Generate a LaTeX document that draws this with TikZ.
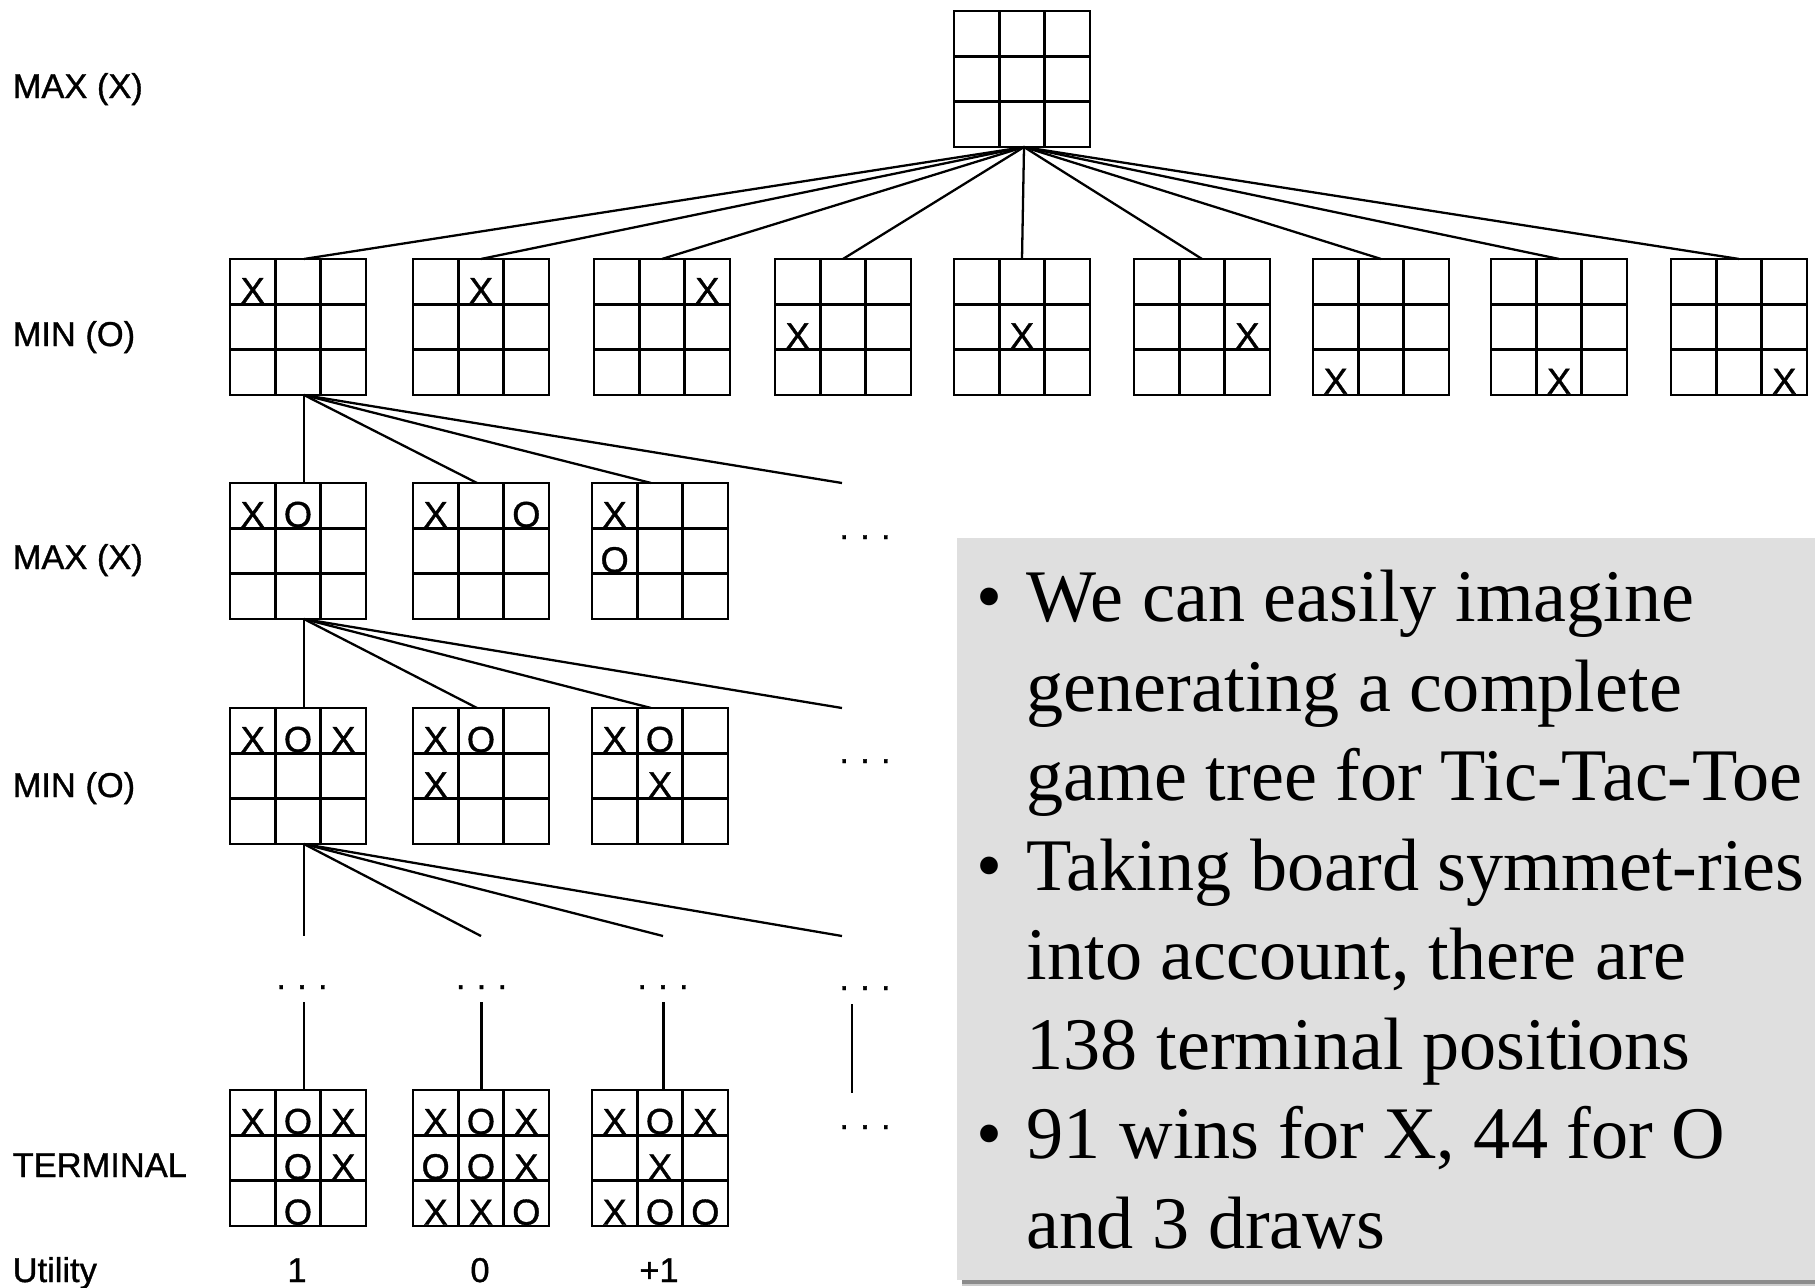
\documentclass[tikz,border=0pt]{standalone}
\usepackage{fontspec}
\setmainfont{Liberation Serif}
\newfontfamily\lblfont[FakeBold=1]{Liberation Sans}
\usetikzlibrary{calc}
\definecolor{boxgray}{HTML}{DFDFDF}
\tikzset{
  board/.style={draw, line width=0.7pt, minimum width=1.36cm, minimum height=1.36cm, inner sep=0pt, outer sep=0pt},
  mk/.style={font=\lblfont\fontsize{10.3pt}{12pt}\selectfont, inner sep=0pt, anchor=base},
  lbl/.style={font=\lblfont\fontsize{9.8pt}{12pt}\selectfont, inner sep=0pt, anchor=base west},
  val/.style={font=\lblfont\fontsize{9.8pt}{12pt}\selectfont, inner sep=0pt, anchor=base},
  dotsnode/.style={font=\lblfont\fontsize{9.8pt}{12pt}\selectfont, inner sep=0pt, anchor=base},
  edge/.style={line width=0.65pt},
  txt/.style={font=\fontsize{21.1pt}{25pt}\selectfont, inner sep=0pt, anchor=base west},
}
\newcommand\tttboard[3]{% name, left, top
  \node[board] (#1) at (#2+68, #3+68) {};
  \draw[line width=0.7pt]
    ($(#1.north west)!1/3!(#1.north east)$) -- ($(#1.south west)!1/3!(#1.south east)$)
    ($(#1.north west)!2/3!(#1.north east)$) -- ($(#1.south west)!2/3!(#1.south east)$)
    ($(#1.north west)!1/3!(#1.south west)$) -- ($(#1.north east)!1/3!(#1.south east)$)
    ($(#1.north west)!2/3!(#1.south west)$) -- ($(#1.north east)!2/3!(#1.south east)$);
}
\newcommand\tttmarks[4]{% name, left, top, list c/r/t
  \foreach \c/\r/\t in {#4} {\node[mk] (#1-\c\r) at (#2+22.67+\c*45.33, #3+\r*45.33+44) {\t};}
}
\newcommand\dotstext{.\kern3.2pt.\kern3.2pt.}
\begin{document}
\begin{tikzpicture}[x=0.01cm, y=-0.01cm]
\useasboundingbox (0,0) rectangle (1815,1287);

% level labels
\node[lbl] (l0) at (12,98) {MAX (X)};
\node[lbl] (l1) at (12,346) {MIN (O)};
\node[lbl] (l2) at (12,569) {MAX (X)};
\node[lbl] (l3) at (12,797) {MIN (O)};
\node[lbl] (l4) at (12,1177) {TERMINAL};
\node[lbl] (l5) at (12,1282) {Utility};

% root
\tttboard{root}{954}{11}
% level 1
\tttboard{a1}{230}{259}  \tttmarks{a1}{230}{259}{0/0/X}
\tttboard{a2}{413}{259}  \tttmarks{a2}{413}{259}{1/0/X}
\tttboard{a3}{594}{259}  \tttmarks{a3}{594}{259}{2/0/X}
\tttboard{a4}{775}{259}  \tttmarks{a4}{775}{259}{0/1/X}
\tttboard{a5}{954}{259}  \tttmarks{a5}{954}{259}{1/1/X}
\tttboard{a6}{1134}{259} \tttmarks{a6}{1134}{259}{2/1/X}
\tttboard{a7}{1313}{259} \tttmarks{a7}{1313}{259}{0/2/X}
\tttboard{a8}{1491}{259} \tttmarks{a8}{1491}{259}{1/2/X}
\tttboard{a9}{1671}{259} \tttmarks{a9}{1671}{259}{2/2/X}
% level 2
\tttboard{b1}{230}{483} \tttmarks{b1}{230}{483}{0/0/X,1/0/O}
\tttboard{b2}{413}{483} \tttmarks{b2}{413}{483}{0/0/X,2/0/O}
\tttboard{b3}{592}{483} \tttmarks{b3}{592}{483}{0/0/X,0/1/O}
% level 3
\tttboard{c1}{230}{708} \tttmarks{c1}{230}{708}{0/0/X,1/0/O,2/0/X}
\tttboard{c2}{413}{708} \tttmarks{c2}{413}{708}{0/0/X,1/0/O,0/1/X}
\tttboard{c3}{592}{708} \tttmarks{c3}{592}{708}{0/0/X,1/0/O,1/1/X}
% terminal
\tttboard{t1}{230}{1090} \tttmarks{t1}{230}{1090}{0/0/X,1/0/O,2/0/X,1/1/O,2/1/X,1/2/O}
\tttboard{t2}{413}{1090} \tttmarks{t2}{413}{1090}{0/0/X,1/0/O,2/0/X,0/1/O,1/1/O,2/1/X,0/2/X,1/2/X,2/2/O}
\tttboard{t3}{592}{1090} \tttmarks{t3}{592}{1090}{0/0/X,1/0/O,2/0/X,1/1/X,0/2/X,1/2/O,2/2/O}

% utility values
\node[val] (u1) at (297,1282) {1};
\node[val] (u2) at (480,1282) {0};
\node[val] (u3) at (659,1282) {+1};

% stems
\coordinate (s0) at ($(root.south)+(2,0)$);
\coordinate (s1) at ($(a1.south)+(6,0)$);
\coordinate (s2) at ($(b1.south)+(6,0)$);
\coordinate (s3) at ($(c1.south)+(6,0)$);

% root edges
\draw[edge] (s0) -- ($(a1.north)+(6,0)$);
\foreach \n in {a2,a3,a4,a5,a6,a7,a8,a9} {\draw[edge] (s0) -- (\n.north);}

% level 1 -> level 2
\coordinate (e1) at (842,483);
\draw[edge] (s1) -- ($(b1.north)+(6,0)$);
\draw[edge] (s1) -- ($(b2.north)+(-4,0)$);
\draw[edge] (s1) -- ($(b3.north)+(-9,0)$);
\draw[edge] (s1) -- (e1);

% level 2 -> level 3
\coordinate (e2) at (842,708);
\draw[edge] (s2) -- ($(c1.north)+(6,0)$);
\draw[edge] (s2) -- ($(c2.north)+(-4,0)$);
\draw[edge] (s2) -- ($(c3.north)+(-9,0)$);
\draw[edge] (s2) -- (e2);

% level 3 -> cut
\coordinate (f1) at (304,936);
\coordinate (f2) at (481,936);
\coordinate (f3) at (663,936);
\coordinate (f4) at (842,936);
\foreach \n in {f1,f2,f3,f4} {\draw[edge] (s3) -- (\n);}

% dots
\node[dotsnode] (d1) at (865,539) {\dotstext};
\node[dotsnode] (d2) at (865,763) {\dotstext};
\node[dotsnode] (d3) at (302,989) {\dotstext};
\node[dotsnode] (d4) at (481.5,989) {\dotstext};
\node[dotsnode] (d5) at (663,989) {\dotstext};
\node[dotsnode] (d6) at (865,990) {\dotstext};
\node[dotsnode] (d7) at (865,1129) {\dotstext};

% lower verticals
\coordinate (g1) at (304,1002);
\coordinate (g2) at (481.5,1002);
\coordinate (g3) at (663.5,1002);
\coordinate (g4) at (852,1004);
\coordinate (h4) at (852,1093);
\draw[edge] (g1) -- ($(t1.north)+(6,0)$);
\draw[edge] (g2) -- ($(t2.north)+(0.5,0)$);
\draw[edge] (g3) -- ($(t3.north)+(3.5,0)$);
\draw[edge] (g4) -- (h4);

% text box
\fill[black!45] (962,1280) rectangle (1815,1284);
\fill[black!20] (962,1284) rectangle (1815,1286);
\node[fill=boxgray, inner sep=0pt, outer sep=0pt, minimum width=8.58cm, minimum height=7.42cm, anchor=north west] (box) at (957,538) {};

\node[txt] (k1) at (976,621.7) {•};
\node[txt] (k2) at (976,890.2) {•};
\node[txt] (k3) at (976,1158.7) {•};
\node[txt] (x1) at (1026,621.7) {We can easily imagine};
\node[txt] (x2) at (1026,711.2) {generating a complete};
\node[txt] (x3) at (1026,800.7) {game tree for Tic-Tac-Toe};
\node[txt] (x4) at (1026,890.2) {Taking board symmet-ries};
\node[txt] (x5) at (1026,979.7) {into account, there are};
\node[txt] (x6) at (1026,1069.2) {138 terminal positions};
\node[txt] (x7) at (1026,1158.7) {91 wins for X, 44 for O};
\node[txt] (x8) at (1026,1248.2) {and 3 draws};
\end{tikzpicture}
\end{document}
